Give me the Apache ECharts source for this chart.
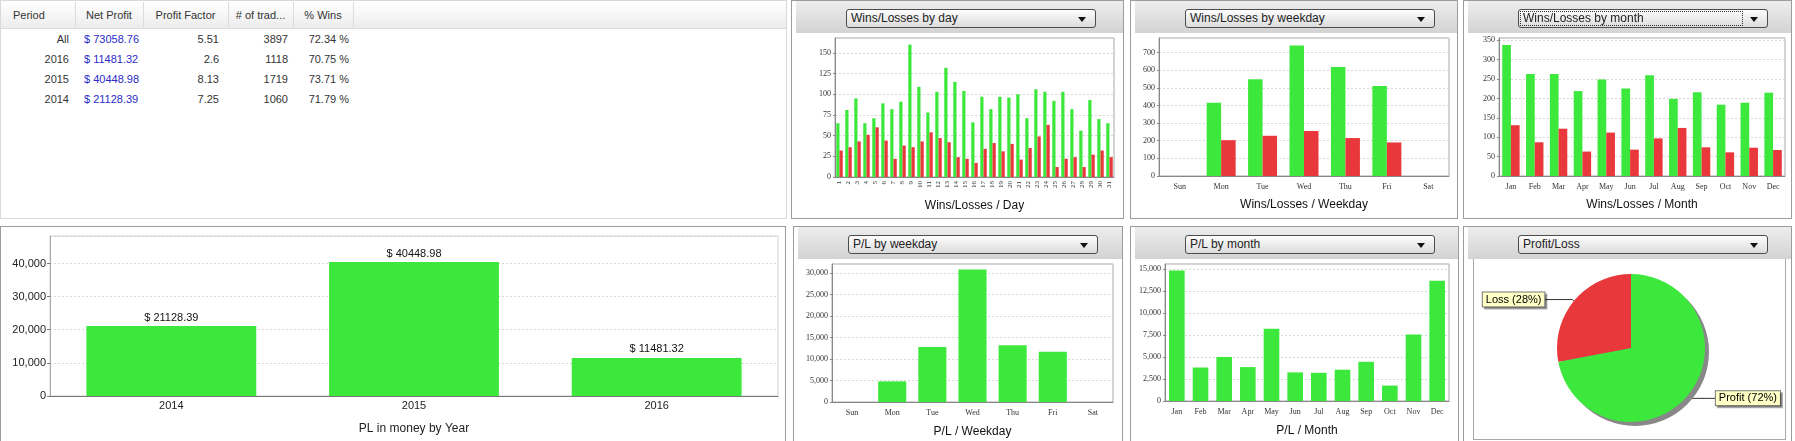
<!DOCTYPE html>
<html>
<head>
<meta charset="utf-8">
<script src="https://cdn.jsdelivr.net/npm/echarts@6/dist/echarts.min.js"></script>
<style>
    body { margin: 0; width: 1795px; height: 441px; overflow: hidden; background: #fff; font-family: 'Liberation Sans', Arial, sans-serif; }
    .panel { position: absolute; box-sizing: border-box; border: 1px solid #9c9c9c; background: #fff; }
    .chart { position: absolute; left: 0; top: 0; right: 0; bottom: 0; }
    .head { position: absolute; left: 4px; right: 0; top: 0; height: 32px; background: linear-gradient(to bottom, #ededed, #d3d3d3); z-index: 2; }
    .combo { position: absolute; left: 50px; top: 8px; width: 250px; height: 19px; box-sizing: border-box; border: 1px solid #4c4c4c; border-radius: 3px;
        background: linear-gradient(to bottom, #fdfdfd, #dcdcdc); font-size: 12px; line-height: 17px; padding-left: 4px; color: #222; }
    .combo .arrow { position: absolute; right: 9px; top: 7px; width: 0; height: 0; border-left: 4px solid transparent; border-right: 4px solid transparent; border-top: 5px solid #111; }
    .combo .focus { position: absolute; left: 1px; top: 1px; right: 24px; bottom: 1px; border: 1px dotted #333; }
    .inner { position: absolute; left: 9px; top: 31px; right: 5px; bottom: 2px; border: 1px solid #a8a8a8; background: #fff; }
    table { border-collapse: collapse; table-layout: fixed; font-size: 11px; color: #333; position: absolute; left: 0; top: 1px; }
    th { height: 26px; font-weight: normal; border-right: 1px solid #dcdcdc; border-bottom: 1px solid #dcdcdc; background: linear-gradient(to bottom, #ffffff, #ececec); padding: 0; }
    td { height: 20px; padding: 0; }
    td.r { text-align: right; }
    td.money { color: #2b2bc8; padding-left: 9px; }
</style>
</head>
<body>
<div class="panel" style="left:0;top:0;width:787px;height:219px;border-color:#dadada">
    <table id="stats">
        <colgroup><col style="width:74px"><col style="width:68px"><col style="width:85px"><col style="width:65px"><col style="width:60px"><col style="width:433px"></colgroup>
        <thead><tr><th style="text-align:left;padding-left:12px">Period</th><th>Net Profit</th><th>Profit Factor</th><th># of trad...</th><th>% Wins</th><th style="border-right:none"></th></tr></thead>
        <tbody></tbody>
    </table>
</div>

<div class="panel" style="left:791px;top:0;width:333px;height:219px">
    <div class="chart" id="wlDay"></div>
    <div class="head"><div class="combo">Wins/Losses by day<span class="arrow"></span></div></div>
</div>
<div class="panel" style="left:1130px;top:0;width:328px;height:219px">
    <div class="chart" id="wlWeekday"></div>
    <div class="head"><div class="combo">Wins/Losses by weekday<span class="arrow"></span></div></div>
</div>
<div class="panel" style="left:1463px;top:0;width:329px;height:219px">
    <div class="chart" id="wlMonth"></div>
    <div class="head"><div class="combo">Wins/Losses by month<span class="focus"></span><span class="arrow"></span></div></div>
</div>

<div class="panel" style="left:0;top:226px;width:786px;height:230px">
    <div class="chart" id="plYear"></div>
</div>
<div class="panel" style="left:793px;top:226px;width:330px;height:230px">
    <div class="chart" id="plWeekday"></div>
    <div class="head"><div class="combo">P/L by weekday<span class="arrow"></span></div></div>
</div>
<div class="panel" style="left:1130px;top:226px;width:329px;height:230px">
    <div class="chart" id="plMonth"></div>
    <div class="head"><div class="combo">P/L by month<span class="arrow"></span></div></div>
</div>
<div class="panel" style="left:1463px;top:226px;width:329px;height:230px">
    <div class="head"><div class="combo">Profit/Loss<span class="arrow"></span></div></div>
    <div class="inner" style="bottom:15px"><div class="chart" id="plPie"></div></div>
</div>

<script>
// summary table
var periods = ['All', '2016', '2015', '2014'];
var netProfit = ['$ 73058.76', '$ 11481.32', '$ 40448.98', '$ 21128.39'];
var profitFactor = ['5.51', '2.6', '8.13', '7.25'];
var tradeCount = ['3897', '1118', '1719', '1060'];
var winPercent = ['72.34 %', '70.75 %', '73.71 %', '71.79 %'];

// wins / losses
var days = ['1', '2', '3', '4', '5', '6', '7', '8', '9', '10', '11', '12', '13', '14', '15', '16',
    '17', '18', '19', '20', '21', '22', '23', '24', '25', '26', '27', '28', '29', '30', '31'];
var dayWins = [65, 81, 95, 65, 71, 89, 82, 91, 160, 109, 78, 103, 132, 115, 104, 66,
    97, 82, 97, 96, 100, 71, 106, 103, 92, 103, 82, 56, 93, 70, 65];
var dayLosses = [32, 36, 43, 51, 60, 44, 22, 38, 36, 43, 54, 47, 42, 24, 22, 17,
    34, 41, 31, 40, 21, 35, 49, 63, 12, 22, 24, 12, 27, 32, 24];

var weekdays = ['Sun', 'Mon', 'Tue', 'Wed', 'Thu', 'Fri', 'Sat'];
var weekdayWins = [0, 415, 548, 740, 617, 510, 0];
var weekdayLosses = [0, 203, 228, 255, 215, 190, 0];

var months = ['Jan', 'Feb', 'Mar', 'Apr', 'May', 'Jun', 'Jul', 'Aug', 'Sep', 'Oct', 'Nov', 'Dec'];
var monthWins = [338, 263, 263, 219, 249, 226, 260, 199, 216, 184, 189, 215];
var monthLosses = [131, 87, 122, 63, 112, 68, 97, 124, 74, 61, 73, 67];

// profit / loss in money
var years = ['2014', '2015', '2016'];
var yearPL = [21128.39, 40448.98, 11481.32];
var weekdayPL = [0, 4800, 12800, 30800, 13200, 11700, 0];
var monthPL = [14800, 3800, 5000, 3850, 8200, 3250, 3200, 3550, 4450, 1750, 7550, 13650];

var pieNames = ['Profit', 'Loss'];
var pieShares = [72, 28];

var green = '#3de83d';
var red = '#e8383c';
var serif = "'Liberation Serif', 'Times New Roman', serif";
var sans = "'Liberation Sans', Arial, sans-serif";

class DashboardRenderer {
    renderTable() {
        var body = document.querySelector('#stats tbody');
        for (var i = 0; i < periods.length; i++) {
            var tr = document.createElement('tr');
            tr.innerHTML = '<td class="r" style="padding-right:6px">' + periods[i] + '</td>' +
                '<td class="money">' + netProfit[i] + '</td>' +
                '<td class="r" style="padding-right:9px">' + profitFactor[i] + '</td>' +
                '<td class="r" style="padding-right:5px">' + tradeCount[i] + '</td>' +
                '<td class="r" style="padding-right:4px">' + winPercent[i] + '</td><td></td>';
            body.appendChild(tr);
        }
    }
    valueAxis(max, interval, formatter) {
        return {
            type: 'value',
            min: 0,
            max: max,
            interval: interval,
            axisLine: { show: true, lineStyle: { color: '#888' } },
            axisTick: { show: true, length: 2, lineStyle: { color: '#888' } },
            axisLabel: { fontSize: 8, fontFamily: serif, color: '#333', margin: 4, showMaxLabel: false, formatter: formatter },
            splitLine: { lineStyle: { color: '#d6d6d6', type: [2, 2] } }
        };
    }
    categoryAxis(cats, name, nameGap, labelExtra) {
        return {
            type: 'category',
            data: cats,
            axisLine: { lineStyle: { color: '#888' } },
            axisTick: { show: false },
            axisLabel: Object.assign({ fontSize: 8, fontFamily: serif, color: '#333', margin: 7, interval: 0 }, labelExtra || {}),
            name: name,
            nameLocation: 'middle',
            nameGap: nameGap,
            nameTextStyle: { fontSize: 12, fontFamily: sans, color: '#111' }
        };
    }
    grid(left, right, top, bottom) {
        return { left: left, right: right, top: top, bottom: bottom, show: true, borderColor: '#a8a8a8', backgroundColor: '#fff' };
    }
    renderWinLoss(containerID, cats, wins, losses, name, max, interval, grid, gap, labelExtra) {
        var chart = echarts.init(document.getElementById(containerID));
        var option = {
            animation: false,
            grid: grid,
            xAxis: this.categoryAxis(cats, name, 23, labelExtra),
            yAxis: this.valueAxis(max, interval),
            series: [
                { type: 'bar', data: wins, itemStyle: { color: green }, barGap: '0%', barCategoryGap: gap },
                { type: 'bar', data: losses, itemStyle: { color: red } }
            ]
        };
        chart.setOption(option);
    }
    renderPL(containerID, cats, values, name, max, interval, grid, gap) {
        var chart = echarts.init(document.getElementById(containerID));
        var option = {
            animation: false,
            grid: grid,
            xAxis: this.categoryAxis(cats, name, 24),
            yAxis: this.valueAxis(max, interval, v => v.toLocaleString('en-US')),
            series: [
                { type: 'bar', data: values, itemStyle: { color: green }, barCategoryGap: gap }
            ]
        };
        chart.setOption(option);
    }
    renderYears(containerID) {
        var chart = echarts.init(document.getElementById(containerID));
        var option = {
            animation: false,
            grid: { left: 49, right: 7, top: 9, bottom: 59, show: true, borderColor: '#cfcfcf', backgroundColor: '#fff' },
            xAxis: {
                type: 'category',
                data: years,
                axisLine: { lineStyle: { color: '#777' } },
                axisTick: { show: false },
                axisLabel: { fontSize: 11, fontFamily: sans, color: '#222', margin: 4 },
                name: 'PL in money by Year',
                nameLocation: 'middle',
                nameGap: 27,
                nameTextStyle: { fontSize: 12, fontFamily: sans, color: '#222' }
            },
            yAxis: {
                type: 'value',
                min: 0,
                max: 48300,
                interval: 10000,
                axisLine: { show: true, lineStyle: { color: '#aaa' } },
                axisTick: { show: true, length: 3, lineStyle: { color: '#777' } },
                axisLabel: { fontSize: 11, fontFamily: sans, color: '#222', margin: 4, showMaxLabel: false, formatter: v => v.toLocaleString('en-US') },
                splitLine: { lineStyle: { color: '#d6d6d6', type: [2, 2] } }
            },
            series: [{
                type: 'bar',
                data: yearPL,
                barCategoryGap: '30%',
                itemStyle: { color: green },
                label: { show: true, position: 'top', distance: 3, fontSize: 11, fontFamily: sans, color: '#111', formatter: p => '$ ' + p.value }
            }]
        };
        chart.setOption(option);
    }
    renderPie(containerID) {
        var chart = echarts.init(document.getElementById(containerID));
        var lines = [[5, 24], [2, 28]];
        var data = pieNames.map((n, i) => ({
            name: n,
            value: pieShares[i],
            itemStyle: { color: i == 0 ? green : red },
            labelLine: { length: lines[i][0], length2: lines[i][1] }
        }));
        var option = {
            animation: false,
            series: [
                {
                    type: 'pie', silent: true, radius: 74, center: [161, 93],
                    data: [{ value: pieShares[0] + pieShares[1] }],
                    itemStyle: { color: '#888' }, label: { show: false }, labelLine: { show: false }
                },
                {
                    type: 'pie',
                    radius: 74,
                    center: [157, 89],
                    startAngle: 90,
                    avoidLabelOverlap: false,
                    data: data,
                    label: {
                        position: 'outside',
                        formatter: '{b} ({c}%)',
                        fontSize: 11,
                        fontFamily: sans,
                        color: '#000',
                        backgroundColor: '#ffffc6',
                        borderColor: '#777',
                        borderWidth: 1,
                        padding: [2, 3, 1, 3],
                        distanceToLabelLine: 0,
                        shadowColor: 'rgba(0,0,0,0.3)',
                        shadowOffsetX: 2,
                        shadowOffsetY: 2
                    },
                    labelLine: { lineStyle: { color: '#333', width: 1 } }
                }
            ]
        };
        chart.setOption(option);
    }
}

var r = new DashboardRenderer();
r.renderTable();
r.renderWinLoss('wlDay', days, dayWins, dayLosses, 'Wins/Losses / Day', 168, 25,
    r.grid(43, 9, 37, 41), '28%', { fontSize: 7, rotate: 90, margin: 4 });
r.renderWinLoss('wlWeekday', weekdays, weekdayWins, weekdayLosses, 'Wins/Losses / Weekday', 782, 100,
    r.grid(28, 8, 37, 42), '30%');
r.renderWinLoss('wlMonth', months, monthWins, monthLosses, 'Wins/Losses / Month', 356, 50,
    r.grid(35, 6, 37, 42), '27%');
r.renderYears('plYear');
r.renderPL('plWeekday', weekdays, weekdayPL, 'P/L / Weekday', 32100, 5000, r.grid(38, 9, 37, 53), '30%');
r.renderPL('plMonth', months, monthPL, 'P/L / Month', 15550, 2500, r.grid(34, 9, 37, 54), '34%');
r.renderPie('plPie');
</script>
</body>
</html>
